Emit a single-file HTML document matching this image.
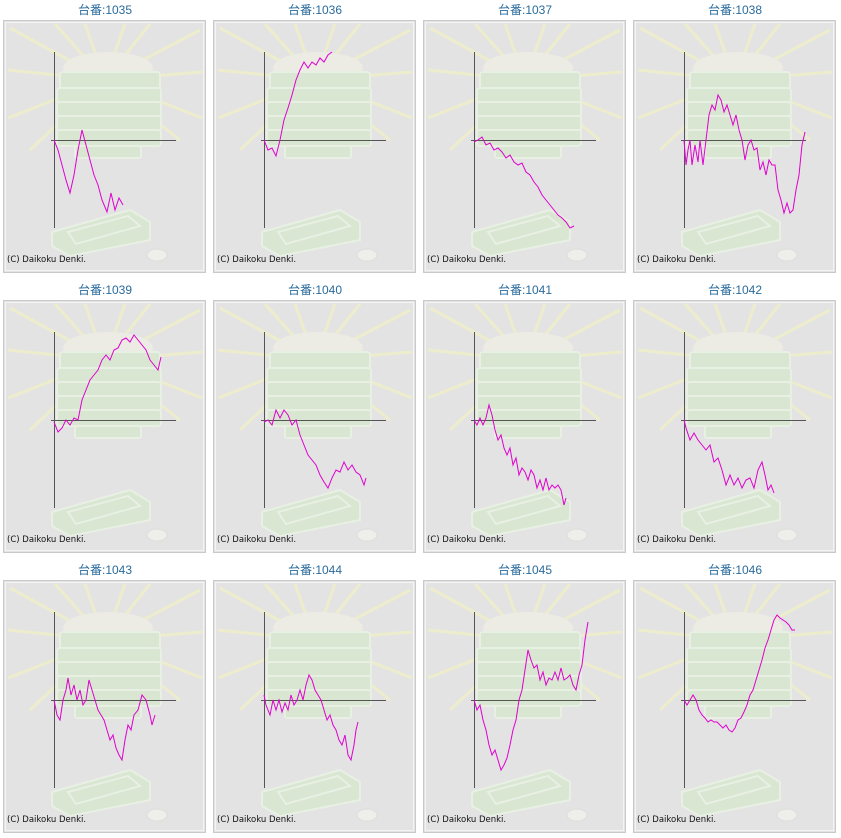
<!DOCTYPE html>
<html><head><meta charset="utf-8"><style>
html,body{margin:0;padding:0;background:#fff;}
svg{display:block;}
.t{font-family:"Liberation Sans","Noto Sans CJK JP",sans-serif;font-size:12px;fill:#2a6b9c;text-anchor:middle;}
.c{font-family:"DejaVu Sans","Liberation Sans",sans-serif;font-size:8.5px;fill:#111;}
.l{fill:none;stroke:#e000d0;stroke-width:1;}
</style></head><body>
<svg width="841" height="838" xmlns="http://www.w3.org/2000/svg">
<defs>
<g id="p">
<rect x="3.5" y="20.5" width="202" height="252" fill="#e3e3e3" stroke="#c9c9c9"/>
<rect x="5.5" y="22.5" width="198" height="248" fill="none" stroke="#f4f4f4"/>
<g stroke="#f0f0c8" stroke-width="3" opacity="0.8">
<line x1="105" y1="80" x2="10" y2="28"/><line x1="105" y1="80" x2="55" y2="24"/><line x1="105" y1="80" x2="85" y2="24"/>
<line x1="105" y1="80" x2="125" y2="24"/><line x1="105" y1="80" x2="150" y2="24"/><line x1="105" y1="80" x2="200" y2="30"/>
<line x1="105" y1="80" x2="8" y2="70"/><line x1="105" y1="80" x2="8" y2="118"/><line x1="105" y1="80" x2="202" y2="72"/>
<line x1="105" y1="80" x2="202" y2="118"/><line x1="105" y1="80" x2="30" y2="150"/><line x1="105" y1="80" x2="180" y2="140"/>
</g>
<ellipse cx="108" cy="68" rx="45" ry="16" fill="#ecebe4"/>
<g fill="#d9e6d2" stroke="#e8f0e4" stroke-width="2">
<rect x="60" y="72" width="100" height="18" rx="3"/>
<rect x="57" y="88" width="104" height="16" rx="3"/>
<rect x="57" y="102" width="104" height="16" rx="3"/>
<rect x="57" y="116" width="104" height="16" rx="3"/>
<rect x="57" y="130" width="104" height="16" rx="3"/>
<rect x="75" y="146" width="66" height="12" rx="2"/>
</g>
<g fill="#d9e6d2" stroke="#e8f0e4" stroke-width="2">
<path d="M52 232 L130 210 L150 222 L150 240 L70 256 L52 246 Z"/>
<path d="M68 232 L128 216 L140 226 L76 244 Z" fill="none"/>
</g>
<ellipse cx="157" cy="255" rx="10" ry="6" fill="#eeeeea" stroke="#ddd"/>
<line x1="54.5" y1="52" x2="54.5" y2="228" stroke="#555"/>
<line x1="51" y1="140.5" x2="176" y2="140.5" stroke="#555"/>
<text class="c" x="7" y="262">(C) Daikoku Denki.</text>
</g>
</defs>
<use href="#p"/><use href="#p" x="210"/><use href="#p" x="420"/><use href="#p" x="630"/>
<use href="#p" y="280"/><use href="#p" x="210" y="280"/><use href="#p" x="420" y="280"/><use href="#p" x="630" y="280"/>
<use href="#p" y="560"/><use href="#p" x="210" y="560"/><use href="#p" x="420" y="560"/><use href="#p" x="630" y="560"/>
<text class="t" x="105" y="14">台番:1035</text><text class="t" x="315" y="14">台番:1036</text><text class="t" x="525" y="14">台番:1037</text><text class="t" x="735" y="14">台番:1038</text>
<text class="t" x="105" y="294">台番:1039</text><text class="t" x="315" y="294">台番:1040</text><text class="t" x="525" y="294">台番:1041</text><text class="t" x="735" y="294">台番:1042</text>
<text class="t" x="105" y="574">台番:1043</text><text class="t" x="315" y="574">台番:1044</text><text class="t" x="525" y="574">台番:1045</text><text class="t" x="735" y="574">台番:1046</text>
<polyline class="l" points="54,140 58,150 62,165 66,180 70,193 74,175 78,150 82,130 86,145 90,160 94,175 98,185 102,200 107,212 111,193 115,210 119,198 123,205"/>
<polyline class="l" points="264,140 268,150 272,148 276,156 280,140 284,120 288,108 292,95 296,80 300,70 304,62 308,68 312,62 316,65 320,58 324,62 328,55 332,52"/>
<polyline class="l" points="474,142 478,140 482,137 486,145 490,143 494,150 498,148 502,152 506,158 510,155 514,162 518,165 522,163 526,172 530,175 534,182 538,187 542,195 546,200 550,205 554,210 558,215 562,218 566,222 570,228 574,226"/>
<polyline class="l" points="684,140 686,165 688,150 690,140 692,165 695,145 698,162 700,140 703,165 706,140 709,115 712,105 715,110 718,95 721,100 724,112 727,105 730,115 733,125 736,115 739,130 742,140 745,160 748,145 751,140 754,150 757,148 760,170 763,162 766,175 769,160 772,165 775,165 778,190 781,200 784,213 787,203 790,213 793,210 796,190 799,175 802,145 805,132"/>
<polyline class="l" points="54,422 58,432 62,428 66,420 70,425 74,418 78,420 82,400 86,390 90,380 94,375 98,370 102,360 106,355 110,360 114,350 118,348 122,340 126,338 130,342 134,335 138,340 142,345 146,350 150,360 154,365 158,370 161,357"/>
<polyline class="l" points="264,422 268,420 272,425 276,410 280,418 284,410 288,415 292,425 296,420 300,435 304,445 308,455 312,460 316,465 320,475 324,482 328,488 332,478 336,470 340,472 344,462 348,470 352,465 356,472 360,475 364,485 366,478"/>
<polyline class="l" points="474,420 477,425 480,418 483,425 486,418 489,405 492,415 495,430 498,440 501,435 504,448 507,455 510,448 513,465 516,458 519,475 522,468 525,472 528,480 531,470 534,475 537,488 540,480 543,490 546,478 549,490 552,485 555,488 558,485 561,490 564,505 566,498"/>
<polyline class="l" points="684,420 686,428 690,440 694,433 698,440 702,445 706,450 710,445 714,462 718,458 722,470 726,485 730,475 734,485 738,478 742,488 746,480 750,478 754,488 758,470 762,462 765,475 768,490 771,485 774,493"/>
<polyline class="l" points="54,700 57,715 60,720 63,700 66,690 68,678 71,695 74,685 77,700 80,690 83,705 86,700 89,680 92,690 95,700 98,710 101,715 104,720 107,730 110,740 113,735 116,748 119,755 122,760 125,740 128,725 131,730 134,715 138,710 142,695 146,700 150,715 152,725 155,715"/>
<polyline class="l" points="264,695 266,705 270,715 273,700 276,710 279,700 282,712 285,703 288,710 291,695 294,705 297,700 300,690 303,700 306,685 309,675 312,680 315,690 318,695 321,700 324,710 327,720 330,715 333,725 336,730 339,740 342,745 345,735 348,755 351,760 354,745 356,730 358,722"/>
<polyline class="l" points="474,700 477,710 480,705 483,720 486,730 489,745 492,755 495,750 498,760 501,770 504,765 507,758 510,745 513,730 516,720 519,700 522,690 525,670 528,650 531,660 534,668 537,665 540,680 543,672 546,685 549,678 552,680 555,672 558,680 561,668 564,680 567,678 570,675 573,685 576,690 579,675 582,665 585,640 588,622"/>
<polyline class="l" points="684,700 687,705 690,700 693,695 696,700 699,710 702,715 705,718 708,722 711,720 714,722 717,722 720,725 723,728 726,725 729,730 732,732 735,728 738,720 741,718 744,712 747,705 750,695 753,690 756,680 759,670 762,660 765,648 768,640 771,630 774,620 777,615 780,618 783,620 786,622 789,625 792,630 795,630"/>
</svg>
</body></html>
